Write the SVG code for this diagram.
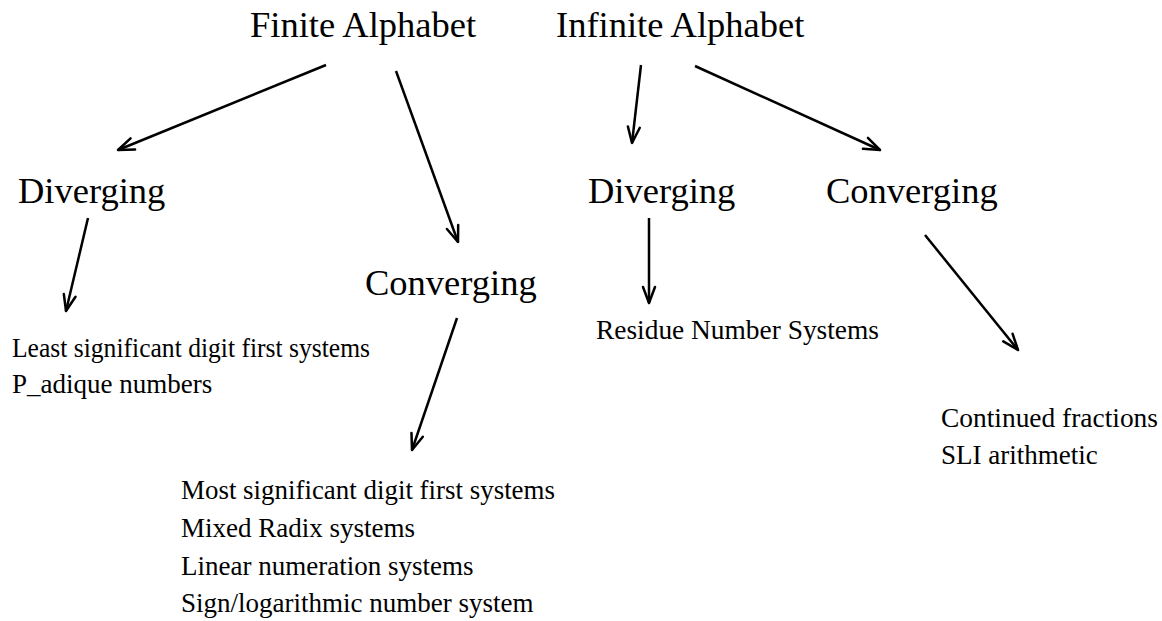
<svg xmlns="http://www.w3.org/2000/svg" width="1162" height="621" viewBox="0 0 1162 621">
<style>
text{font-family:"Liberation Serif","Times New Roman",serif;fill:#000}
.big{font-size:36.5px}
.small{font-size:27px}
.conn line{stroke:#000;stroke-width:2.5;fill:none;marker-end:url(#ah)}
</style>
<defs>
<marker id="ah" viewBox="-18 -8 20 16" refX="0" refY="0" markerWidth="20" markerHeight="16" markerUnits="userSpaceOnUse" orient="auto">
<path d="M-16,-6 L0,0 L-16,6" fill="none" stroke="#000" stroke-width="2.5" stroke-linejoin="round" stroke-linecap="round"/>
</marker>
</defs>
<rect width="1162" height="621" fill="#fff"/>
<g id="finite"><text class="big" x="250" y="37">Finite Alphabet</text></g>
<g id="infinite"><text class="big" x="556" y="37">Infinite Alphabet</text></g>
<g id="fin-div"><text class="big" x="18" y="203">Diverging</text></g>
<g id="fin-conv"><text class="big" x="365" y="295">Converging</text></g>
<g id="inf-div"><text class="big" x="588" y="203">Diverging</text></g>
<g id="inf-conv"><text class="big" x="826" y="203">Converging</text></g>
<g id="lsd"><text class="small" x="12" y="357" textLength="358" lengthAdjust="spacingAndGlyphs">Least significant digit first systems</text><text class="small" x="12" y="393">P_adique numbers</text></g>
<g id="rns"><text class="small" x="596" y="339" textLength="283" lengthAdjust="spacingAndGlyphs">Residue Number Systems</text></g>
<g id="cf"><text class="small" x="941" y="427" textLength="217" lengthAdjust="spacingAndGlyphs">Continued fractions</text><text class="small" x="941" y="464">SLI arithmetic</text></g>
<g id="msd"><text class="small" x="181" y="499" textLength="374" lengthAdjust="spacingAndGlyphs">Most significant digit first systems</text><text class="small" x="181" y="537">Mixed Radix systems</text><text class="small" x="181" y="575">Linear numeration systems</text><text class="small" x="181" y="612">Sign/logarithmic number system</text></g>
<g id="connectors" class="conn">
<line x1="326" y1="65" x2="118" y2="150"/>
<line x1="396" y1="71" x2="458" y2="242"/>
<line x1="641" y1="65" x2="632" y2="143"/>
<line x1="695" y1="66" x2="880" y2="150"/>
<line x1="88" y1="218" x2="66" y2="311"/>
<line x1="457" y1="318" x2="412" y2="450"/>
<line x1="649" y1="218" x2="649" y2="303"/>
<line x1="925" y1="235" x2="1018" y2="350"/>
</g>
</svg>
